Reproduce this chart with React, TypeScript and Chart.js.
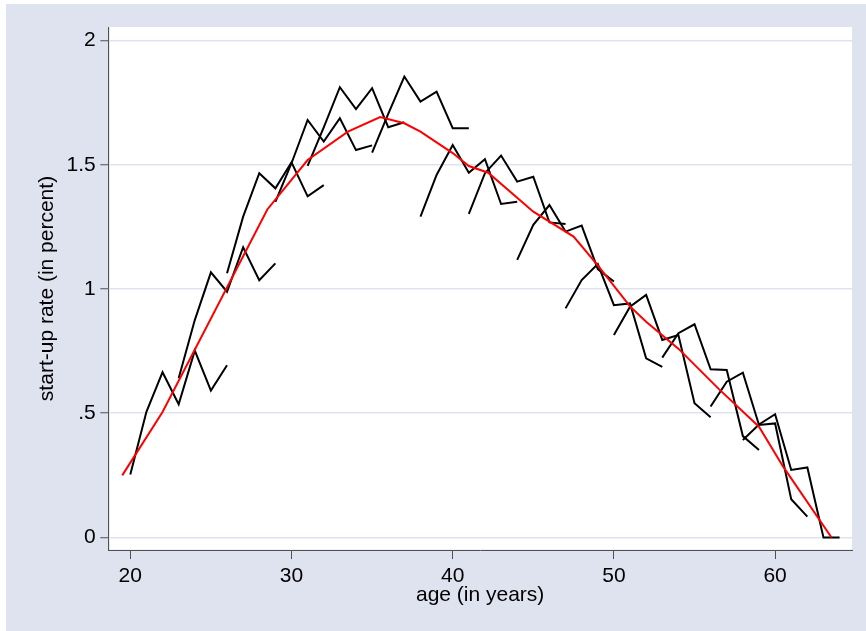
import React, { useEffect, useRef } from "react";
import { Chart, registerables } from "chart.js";

Chart.register(...registerables);

// ---- data ----
const xTicks = [20, 30, 40, 50, 60];
const yTicks = [0, 0.5, 1, 1.5, 2];
const yTickLabels = ["0", ".5", "1", "1.5", "2"];

// each cohort line: first age, then one value per consecutive year of age
const cohortStarts = [20, 23, 26, 29, 31, 35, 38, 41, 44, 47, 50, 53, 56, 58];
const cohort20 = [0.254, 0.506, 0.665, 0.536, 0.752, 0.591, 0.693];
const cohort23 = [0.641, 0.875, 1.067, 0.989, 1.168, 1.035, 1.103];
const cohort26 = [1.063, 1.291, 1.466, 1.405, 1.51, 1.373, 1.418];
const cohort29 = [1.351, 1.506, 1.68, 1.593, 1.687, 1.559, 1.578];
const cohort31 = [1.495, 1.65, 1.812, 1.724, 1.808, 1.651, 1.671];
const cohort35 = [1.549, 1.705, 1.855, 1.754, 1.794, 1.647, 1.647];
const cohort38 = [1.291, 1.459, 1.579, 1.468, 1.522, 1.342, 1.351];
const cohort41 = [1.302, 1.466, 1.537, 1.432, 1.452, 1.268, 1.262];
const cohort44 = [1.117, 1.258, 1.338, 1.231, 1.255, 1.08, 1.03];
const cohort47 = [0.922, 1.036, 1.1, 0.935, 0.942, 0.721, 0.687];
const cohort50 = [0.815, 0.929, 0.976, 0.795, 0.815, 0.54, 0.484];
const cohort53 = [0.724, 0.822, 0.858, 0.677, 0.674, 0.408, 0.352];
const cohort56 = [0.527, 0.627, 0.663, 0.453, 0.459, 0.154, 0.084];
const cohort58 = [0.392, 0.455, 0.496, 0.272, 0.282, 0.0, 0.0];
const cohortSeries = [
  cohort20, cohort23, cohort26, cohort29, cohort31, cohort35, cohort38,
  cohort41, cohort44, cohort47, cohort50, cohort53, cohort56, cohort58,
];

// fitted (red) profile
const fitAges = [19.5, 22, 28.5, 31, 33.5, 35.5, 37, 38, 40, 41, 42.2, 45, 47.5, 49, 51, 52, 54, 56.5, 59, 60.5, 63.5];
const fitValues = [0.25, 0.505, 1.32, 1.519, 1.633, 1.692, 1.667, 1.633, 1.547, 1.495, 1.468, 1.311, 1.211, 1.095, 0.93, 0.868, 0.76, 0.598, 0.446, 0.285, 0.0];

const xTitle = "age (in years)";
const yTitle = "start-up rate (in percent)";

// ---- style ----
const BG = "#dfe3ef";
const AXIS = "#505050";
const FONT = "'Liberation Sans', Arial, Helvetica, sans-serif";
const FS = 21;

const plotBackground = {
  id: "plotBackground",
  beforeDraw(chart: any) {
    const { ctx, chartArea: a } = chart;
    ctx.save();
    ctx.fillStyle = "#ffffff";
    ctx.fillRect(a.left + 1.5, a.top, a.right - a.left - 1.5, a.bottom - a.top - 0.5);
    ctx.restore();
  },
};

export default function App() {
  const ref = useRef<HTMLCanvasElement | null>(null);

  useEffect(() => {
    if (!ref.current) return;
    const datasets: any[] = [
      {
        label: "fit",
        data: fitAges.map((a, i) => ({ x: a, y: fitValues[i] })),
        borderColor: "#ff0000",
        borderWidth: 2,
        pointRadius: 0,
        tension: 0,
        fill: false,
        order: 0,
      },
    ];
    cohortSeries.forEach((vals, k) => {
      datasets.push({
        label: "cohort " + cohortStarts[k],
        data: vals.map((v, i) => ({ x: cohortStarts[k] + i, y: v })),
        borderColor: "#000000",
        borderWidth: 2,
        pointRadius: 0,
        tension: 0,
        fill: false,
        order: 1,
      });
    });

    const chart = new Chart(ref.current, {
      type: "line",
      data: { datasets },
      plugins: [plotBackground],
      options: {
        animation: false,
        responsive: false,
        devicePixelRatio: 1,
        layout: { padding: { left: 0, right: 14, top: 23, bottom: 0 } },
        plugins: { legend: { display: false }, tooltip: { enabled: false } },
        scales: {
          x: {
            type: "linear",
            min: 18.635,
            max: 64.77,
            afterBuildTicks: (scale: any) => {
              scale.ticks = xTicks.map((v) => ({ value: v }));
            },
            afterFit: (scale: any) => {
              scale.height = 81;
            },
            grid: {
              drawOnChartArea: false,
              drawTicks: true,
              tickLength: 9,
              tickColor: AXIS,
              tickWidth: 1,
            },
            border: { display: true, color: AXIS, width: 1 },
            ticks: {
              autoSkip: false,
              maxRotation: 0,
              padding: 5,
              color: "#000",
              font: { family: FONT, size: FS },
              callback: (v: any) => String(v),
            },
            title: {
              display: true,
              text: xTitle,
              color: "#000",
              font: { family: FONT, size: FS },
              padding: { top: 0, bottom: 23 },
            },
          },
          y: {
            type: "linear",
            min: -0.0503,
            max: 2.0543,
            afterBuildTicks: (scale: any) => {
              scale.ticks = yTicks.map((v) => ({ value: v }));
            },
            afterFit: (scale: any) => {
              scale.width = 102.3;
            },
            grid: {
              drawOnChartArea: true,
              color: BG,
              lineWidth: 1.5,
              drawTicks: true,
              tickLength: 8,
              tickColor: AXIS,
              tickWidth: 1,
            },
            border: { display: true, color: AXIS, width: 1 },
            ticks: {
              autoSkip: false,
              padding: 4.5,
              color: "#000",
              font: { family: FONT, size: FS },
              callback: (v: any) => {
                const idx = yTicks.indexOf(Number(v));
                return idx >= 0 ? yTickLabels[idx] : "";
              },
            },
            title: {
              display: true,
              text: yTitle,
              color: "#000",
              font: { family: FONT, size: FS },
              padding: { top: 29, bottom: 0 },
            },
          },
        },
      },
    });
    return () => chart.destroy();
  }, []);

  return (
    <div
      style={{
        position: "fixed",
        left: 6,
        top: 4,
        width: 860,
        height: 627,
        background: BG,
      }}
    >
      <canvas ref={ref} width={860} height={627} style={{ width: 860, height: 627, display: "block" }} />
    </div>
  );
}
